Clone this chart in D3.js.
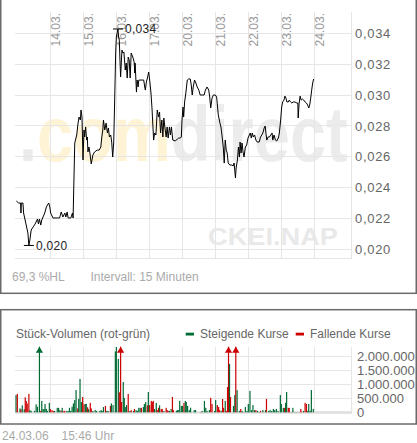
<!DOCTYPE html>
<html><head><meta charset="utf-8">
<script src="https://cdn.jsdelivr.net/npm/d3@7"></script>
<style>
html,body{margin:0;padding:0;background:#fff;}
svg{display:block;font-family:"Liberation Sans",Arial,Helvetica,sans-serif;}
</style></head><body>
<svg id="chart" width="417" height="443"></svg>
<script>
// ---- data ---------------------------------------------------------------
// time axis in trading days (0 = 13.03., 1 = 14.03., ... 9 = 24.03.)
const dayTicks  = [1, 2, 3, 4, 5, 6, 7, 8, 9];
const dayLabels = ["14.03.", "15.03.", "16.03.", "17.03.", "20.03.", "21.03.", "22.03.", "23.03.", "24.03."];

const priceTicks  = [0.020, 0.022, 0.024, 0.026, 0.028, 0.030, 0.032, 0.034];
const volumeTicks = [0, 500000, 1000000, 1500000, 2000000];

// 15-minute quotes
const priceTimes = [
 -0.02,0.05,0.11,0.12,0.13,0.18,0.20,0.33,0.36,0.39,
 0.43,0.49,0.55,0.62,0.65,0.68,0.72,0.75,0.84,0.89,
 0.96,0.99,1.02,1.09,1.22,1.29,1.34,1.39,1.45,1.48,
 1.52,1.55,1.63,1.68,1.70,1.73,1.75,1.81,1.85,1.88,
 1.92,1.94,1.97,2.00,2.03,2.05,2.08,2.11,2.13,2.15,
 2.18,2.21,2.25,2.30,2.35,2.43,2.49,2.54,2.57,2.60,
 2.62,2.66,2.70,2.74,2.77,2.80,2.84,2.87,2.90,2.93,
 2.96,2.99,3.01,3.04,3.06,3.08,3.10,3.12,3.14,3.18,
 3.21,3.24,3.28,3.31,3.34,3.37,3.40,3.43,3.46,3.51,
 3.55,3.57,3.58,3.62,3.64,3.67,3.69,3.79,3.84,3.87,
 3.89,3.92,3.96,3.99,4.02,4.06,4.09,4.12,4.14,4.17,
 4.21,4.25,4.29,4.32,4.35,4.39,4.42,4.45,4.48,4.52,
 4.55,4.58,4.62,4.65,4.68,4.72,4.80,4.86,4.90,4.95,
 4.98,5.00,5.03,5.05,5.08,5.12,5.16,5.20,5.25,5.28,
 5.31,5.34,5.38,5.42,5.46,5.51,5.55,5.61,5.67,5.71,
 5.76,5.81,5.84,5.87,5.91,5.95,6.01,6.05,6.10,6.15,
 6.18,6.21,6.25,6.28,6.31,6.34,6.37,6.40,6.45,6.51,
 6.55,6.58,6.62,6.64,6.68,6.71,6.74,6.76,6.79,6.82,
 6.85,6.88,6.92,6.96,7.00,7.04,7.07,7.10,7.13,7.16,
 7.20,7.24,7.28,7.34,7.38,7.42,7.46,7.49,7.52,7.55,
 7.57,7.61,7.65,7.69,7.73,7.75,7.79,7.83,7.87,7.92,
 7.95,7.99,8.02,8.05,8.09,8.12,8.15,8.18,8.22,8.25,
 8.29,8.33,8.37,8.42,8.48,8.51,8.52,8.55,8.58,8.61,
 8.65,8.69,8.73,8.77,8.81,8.84,8.87,8.90,8.93,8.96,8.99
];
const prices = [
 0.02313,0.02300,0.02300,0.02235,0.02300,0.02300,0.02235,0.02106,0.02025,0.02060,
 0.02125,0.02145,0.02164,0.02196,0.02164,0.02196,0.02157,0.02190,0.02235,0.02274,
 0.02300,0.02281,0.02235,0.02203,0.02203,0.02203,0.02242,0.02209,0.02235,0.02209,
 0.02242,0.02203,0.02203,0.02235,0.02203,0.02494,0.02689,0.02741,0.02818,0.02857,
 0.02838,0.02903,0.02857,0.02579,0.02773,0.02728,0.02793,0.02708,0.02728,0.02631,
 0.02663,0.02624,0.02553,0.02611,0.02631,0.02643,0.02643,0.02663,0.02728,0.02773,
 0.02838,0.02773,0.02818,0.02754,0.02786,0.02728,0.02741,0.02695,0.02598,0.02689,
 0.02967,0.03272,0.03376,0.03408,0.03428,0.03376,0.03356,0.03227,0.03117,0.03291,
 0.03272,0.03279,0.03162,0.03207,0.03110,0.03246,0.03227,0.03110,0.03272,0.03246,
 0.03214,0.03142,0.03207,0.03019,0.03097,0.03052,0.03097,0.03097,0.03097,0.03052,
 0.03032,0.03084,0.03117,0.03149,0.03097,0.03013,0.02916,0.02793,0.02708,0.02754,
 0.02741,0.02903,0.02857,0.02890,0.02754,0.02838,0.02728,0.02851,0.02793,0.02728,
 0.02793,0.02721,0.02793,0.02741,0.02793,0.02708,0.02702,0.02715,0.02721,0.02721,
 0.02728,0.02838,0.02922,0.02857,0.02955,0.03019,0.03097,0.03104,0.03104,0.03065,
 0.03000,0.03052,0.03097,0.03078,0.03052,0.03032,0.03000,0.03000,0.03000,0.03032,
 0.03052,0.03032,0.02987,0.02916,0.02980,0.03000,0.03000,0.02987,0.02870,0.02818,
 0.02793,0.02741,0.02663,0.02559,0.02708,0.02643,0.02624,0.02559,0.02546,0.02546,
 0.02540,0.02559,0.02462,0.02527,0.02579,0.02663,0.02598,0.02695,0.02624,0.02689,
 0.02631,0.02598,0.02663,0.02676,0.02721,0.02741,0.02754,0.02721,0.02754,0.02728,
 0.02741,0.02708,0.02695,0.02695,0.02728,0.02741,0.02760,0.02786,0.02799,0.02741,
 0.02708,0.02728,0.02728,0.02741,0.02754,0.02708,0.02741,0.02708,0.02702,0.02721,
 0.02754,0.02838,0.02922,0.02955,0.02967,0.02993,0.02980,0.02955,0.02955,0.02967,
 0.02955,0.02948,0.02955,0.02955,0.02948,0.02948,0.02851,0.02948,0.02993,0.02967,
 0.02974,0.02967,0.02955,0.02948,0.02935,0.02916,0.02935,0.02980,0.03032,0.03078,0.03104
];

// traded shares per 15-minute slot (thousands), 1 = rising, 0 = falling
const volumeTimes = [
 -0.03,0.01,0.09,0.12,0.16,0.22,0.25,0.28,0.31,0.36,
 0.39,0.43,0.53,0.58,0.62,0.68,0.72,0.75,0.79,0.82,
 0.85,0.89,0.92,0.98,1.01,1.06,1.10,1.14,1.22,1.26,
 1.30,1.34,1.37,1.42,1.45,1.51,1.55,1.59,1.63,1.67,
 1.71,1.75,1.79,1.84,1.87,1.91,1.95,1.99,2.03,2.07,
 2.10,2.14,2.17,2.22,2.25,2.30,2.37,2.41,2.51,2.55,
 2.58,2.62,2.68,2.72,2.76,2.83,2.86,2.91,2.98,3.01,
 3.07,3.10,3.14,3.17,3.22,3.25,3.28,3.32,3.37,3.42,
 3.46,3.53,3.56,3.61,3.65,3.69,3.73,3.77,3.83,3.86,
 3.90,3.95,3.98,4.02,4.07,4.10,4.13,4.17,4.22,4.25,
 4.29,4.32,4.37,4.40,4.45,4.52,4.55,4.58,4.62,4.67,
 4.71,4.74,4.83,4.86,4.90,4.93,4.98,5.02,5.06,5.10,
 5.13,5.17,5.22,5.26,5.37,5.41,5.57,5.61,5.68,5.72,
 5.76,5.83,5.87,5.91,5.99,6.02,6.07,6.11,6.14,6.19,
 6.23,6.26,6.31,6.34,6.38,6.41,6.44,6.47,6.56,6.60,
 6.63,6.67,6.74,6.78,6.82,6.86,6.92,6.97,7.01,7.06,
 7.11,7.15,7.20,7.24,7.29,7.34,7.38,7.45,7.53,7.56,
 7.63,7.67,7.72,7.77,7.81,7.86,7.91,7.98,8.01,8.07,
 8.11,8.14,8.17,8.22,8.25,8.31,8.36,8.42,8.47,8.55,
 8.60,8.63,8.68,8.73,8.77,8.81,8.84,8.88,8.92,8.98
];
const volumeThousands = [
 620,660,140,110,250,110,540,410,320,660,
 80,50,50,290,200,3200,50,410,120,120,
 300,120,50,340,120,80,50,50,160,160,
 80,50,160,50,50,50,50,160,50,200,
 320,440,800,140,480,1200,370,550,290,300,
 300,180,110,340,140,50,80,50,50,80,
 50,190,230,50,50,230,320,260,2190,2350,
 1920,720,2900,370,1090,520,190,260,660,50,
 80,50,120,80,50,160,160,160,190,300,
 370,250,730,260,410,370,410,120,340,80,
 160,250,120,120,50,160,80,50,50,120,
 550,80,50,80,80,410,230,230,340,410,
 370,230,80,160,80,80,10,50,410,160,
 50,80,520,300,50,440,260,190,80,50,
 480,160,410,50,910,2700,1740,550,230,620,
 2600,800,50,120,50,10,190,50,300,770,
 80,260,80,80,50,10,50,80,80,480,
 50,80,50,120,80,120,50,620,300,160,
 160,340,730,160,160,10,160,10,10,10,
 120,10,50,340,300,50,300,50,800,120
];
const volumeRising = [
 1,0,1,0,1,1,0,0,0,0, 1,1,1,1,1,1,0,1,1,1,
 1,1,1,1,0,0,0,1,1,1, 1,0,1,0,0,1,1,1,1,1,
 1,1,1,0,1,1,1,0,0,1, 1,0,1,0,0,1,1,1,1,1,
 1,1,0,1,1,0,1,1,1,1, 1,0,0,0,1,1,1,1,0,1,
 0,1,0,1,1,1,1,0,1,1, 1,0,1,0,0,0,0,1,1,0,
 0,1,0,0,1,0,0,0,1,1, 0,0,1,1,1,1,1,1,0,1,
 1,1,1,1,1,1,0,1,1,1, 1,1,0,0,1,1,0,0,0,1,
 0,0,1,0,0,0,1,0,1,1, 0,1,1,0,1,0,1,1,1,1,
 1,1,1,0,1,1,0,1,1,0, 1,1,1,1,1,1,1,1,1,1,
 0,1,1,0,0,1,1,1,1,0, 0,0,1,0,0,1,1,1,1,1
];

// ---- setup ---------------------------------------------------------------
const de = d3.formatLocale({decimal: ",", thousands: ".", grouping: [3], currency: ["", " €"]});
const fmtPrice = de.format(".3f");
const fmtVolume = de.format(",.0f");

const GREEN = "#006b35", RED = "#cc0000", GRID = "#e6e6e6";
const quotes = priceTimes.map((t, i) => ({t, p: prices[i]}));
const volumes = volumeTimes.map((t, i) => ({t, v: volumeThousands[i] * 1000, up: volumeRising[i] === 1}));

const svg = d3.select("#chart");
const x = d3.scaleLinear().domain([-0.05, 10.15]).range([15.35, 351.95]);

// ---- frames --------------------------------------------------------------
svg.append("rect").attr("x", 0.75).attr("y", -3).attr("width", 415.5).attr("height", 296.3)
  .attr("fill", "none").attr("stroke", "#6a6a6a").attr("stroke-width", 1.5);
svg.append("rect").attr("x", 0.75).attr("y", 309.7).attr("width", 415.5).attr("height", 114.3)
  .attr("fill", "none").attr("stroke", "#6a6a6a").attr("stroke-width", 1.5);

// ---- price chart -----------------------------------------------------------
const plotTop = 11.5, plotBottom = 258.3, plotLeft = x.range()[0], plotRight = x.range()[1];
const y = d3.scaleLinear().domain([0.020, 0.034]).range([249.3, 33.3]);
const main = svg.append("g");

// brand watermark
const wm = main.append("text")
  .attr("transform", "translate(19,161) scale(1,1.2)")
  .style("font-size", "65px").style("font-weight", "bold");
wm.append("tspan").attr("fill", "#ebebeb").text(".");
wm.append("tspan").attr("fill", "#fef3d4").text("com");
wm.append("tspan").attr("fill", "#ececec").text("direct");
main.append("text").attr("x", 208).attr("y", 245)
  .attr("textLength", 130).attr("lengthAdjust", "spacingAndGlyphs")
  .style("font-size", "24px").style("font-weight", "bold").attr("fill", "#e9e9e9")
  .text("CKEI.NAP");

const grid = main.append("g").attr("stroke", GRID).attr("shape-rendering", "crispEdges");
grid.selectAll(".h").data(priceTicks.concat([y.invert(plotBottom)])).join("line")
  .attr("x1", plotLeft).attr("x2", plotRight).attr("y1", d => y(d)).attr("y2", d => y(d));
grid.selectAll(".v").data(dayTicks.concat([x.domain()[1]])).join("line")
  .attr("x1", d => x(d)).attr("x2", d => x(d)).attr("y1", plotTop).attr("y2", plotBottom);

// day labels (rotated)
main.append("g").selectAll("text").data(dayTicks).join("text")
  .attr("transform", d => `translate(${x(d) + 10},13) rotate(-90)`)
  .attr("text-anchor", "end").attr("fill", "#999").style("font-size", "12px")
  .text((d, i) => dayLabels[i]);

// price axis
const yAxis = d3.axisRight(y).tickValues(priceTicks).tickSize(0).tickPadding(0).tickFormat(fmtPrice);
const ya = main.append("g").attr("transform", `translate(355,0)`).call(yAxis);
ya.select(".domain").remove();
ya.selectAll("text").attr("fill", "#666").style("font-size", "13px")
  .style("font-family", "'Liberation Sans',Arial,sans-serif").style("letter-spacing", "0.7px");

// price line
main.append("path").datum(quotes)
  .attr("fill", "none").attr("stroke", "#000").attr("stroke-width", 1)
  .attr("d", d3.line().x(d => x(d.t)).y(d => y(d.p)));

// high / low markers
const hi = d3.greatest(quotes, d => d.p), lo = d3.least(quotes, d => d.p);
[hi, lo].forEach(q => {
  const cx = x(q.t), cy = y(q.p);
  main.append("line").attr("x1", cx - 5).attr("x2", cx + 5).attr("y1", cy).attr("y2", cy)
    .attr("stroke", "#000").attr("stroke-width", 1);
  main.append("text").attr("x", cx + 7).attr("y", cy).attr("dy", "0.35em")
    .attr("fill", "#222").style("font-size", "12px").style("letter-spacing", "0.3px")
    .text(fmtPrice(q.p));
});

// info line: high/low range in percent
const hl = (d3.max(prices) - d3.min(prices)) / d3.min(prices) * 100;
main.append("text").attr("x", 12).attr("y", 277).attr("dy", "0.35em")
  .attr("fill", "#aaa").style("font-size", "12px")
  .text(de.format(".1f")(hl) + " %HL");
main.append("text").attr("x", 90.5).attr("y", 277).attr("dy", "0.35em")
  .attr("fill", "#aaa").style("font-size", "12px").text("Intervall: 15 Minuten");

// ---- volume chart ----------------------------------------------------------
const vTop = 346.7, vBottom = 412.3, vMax = 2360000;
const vy = d3.scaleLinear().domain([0, vMax]).range([vBottom, vTop]);
const vol = svg.append("g");

vol.append("text").attr("x", 16).attr("y", 333.5).attr("dy", "0.35em")
  .attr("fill", "#666").style("font-size", "12px").text("Stück-Volumen (rot-grün)");
const legend = [{label: "Steigende Kurse", color: GREEN, x: 185.7}, {label: "Fallende Kurse", color: RED, x: 295.7}];
legend.forEach(l => {
  vol.append("rect").attr("x", l.x).attr("y", 332.7).attr("width", 8.3).attr("height", 2.8).attr("fill", l.color);
  vol.append("text").attr("x", l.x + 14.3).attr("y", 333.5).attr("dy", "0.35em")
    .attr("fill", "#666").style("font-size", "12px").text(l.label);
});

const vgrid = vol.append("g").attr("stroke", GRID).attr("shape-rendering", "crispEdges");
vgrid.selectAll(".h").data(volumeTicks.slice(1)).join("line")
  .attr("x1", plotLeft).attr("x2", plotRight).attr("y1", d => vy(d)).attr("y2", d => vy(d));
vgrid.selectAll(".v").data(dayTicks.concat([x.domain()[1]])).join("line")
  .attr("x1", d => x(d)).attr("x2", d => x(d)).attr("y1", vTop).attr("y2", vBottom);
vol.append("line").attr("x1", plotLeft).attr("x2", plotRight).attr("y1", vBottom + 0.3).attr("y2", vBottom + 0.3)
  .attr("stroke", "#dedede").attr("stroke-width", 2.5);

vol.append("g").selectAll("rect").data(volumes).join("rect")
  .attr("x", d => x(d.t) - 0.6).attr("width", 1.2)
  .attr("y", d => vy(Math.min(d.v, vMax))).attr("height", d => vBottom - vy(Math.min(d.v, vMax)))
  .attr("fill", d => d.up ? GREEN : RED);

// off-scale bars get an arrow head
vol.append("g").selectAll("path").data(volumes.filter(d => d.v > vMax)).join("path")
  .attr("d", d => {
    const cx = x(d.t);
    return `M${cx},${vTop} L${cx + 3.6},${vTop + 6} L${cx - 3.6},${vTop + 6} Z`;
  })
  .attr("fill", d => d.up ? GREEN : RED);

const vAxis = d3.axisRight(vy).tickValues(volumeTicks).tickSize(0).tickPadding(0).tickFormat(fmtVolume);
const va = vol.append("g").attr("transform", "translate(357,0)").call(vAxis);
va.select(".domain").remove();
va.selectAll("text").attr("fill", "#666").style("font-size", "13px")
  .style("font-family", "'Liberation Sans',Arial,sans-serif");

// timestamp
svg.append("text").attr("x", 2).attr("y", 436).attr("dy", "0.35em")
  .attr("fill", "#aaa").style("font-size", "12px").text("24.03.06");
svg.append("text").attr("x", 61.5).attr("y", 436).attr("dy", "0.35em")
  .attr("fill", "#aaa").style("font-size", "12px").text("15:46 Uhr");
</script>
</body></html>
